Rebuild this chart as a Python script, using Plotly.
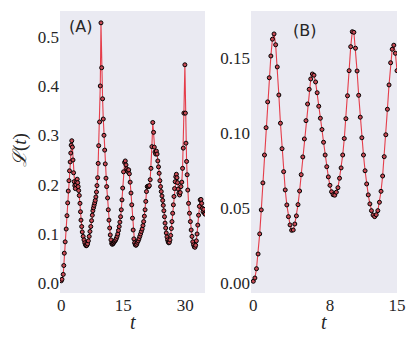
import plotly.graph_objects as go
from plotly.subplots import make_subplots

_BG = "#EAEAF2"
_LINE = "rgba(228, 30, 45, 0.85)"
_FILL = "#c84a55"
_TXT = "#262626"
_SERIF = "Liberation Serif, DejaVu Serif, serif"

# ── 数据 (A)：非均匀采样 ─────────────────────────────────────────────────────
t_a = [0.0, 0.17, 0.48, 0.61, 0.73, 0.94, 1.19, 1.38, 1.55, 1.69, 1.86, 1.99, 2.15, 2.30, 2.40,
       2.54, 2.69, 2.83, 2.98, 3.12,
       3.27, 3.41, 3.56, 3.70, 3.85, 3.97, 4.09, 4.21,
       4.36, 4.53, 4.65, 4.77, 4.94, 5.08, 5.30, 5.50, 5.69, 5.86, 6.03, 6.20, 6.37,
       6.56, 6.76, 6.95, 7.14, 7.34, 7.51, 7.65, 7.80, 7.94, 8.09, 8.23, 8.38, 8.52, 8.64,
       8.81, 8.93, 9.06, 9.27, 9.44, 9.61,
       9.78, 10.00, 10.17, 10.34, 10.51, 10.65, 10.82, 10.99, 11.21, 11.38, 11.55, 11.72,
       11.86, 12.03, 12.20,
       12.35, 12.52, 12.66, 12.83, 13.00, 13.17, 13.34, 13.51, 13.68, 13.85, 14.02,
       14.19, 14.36, 14.53, 14.70, 14.87, 15.08, 15.33, 15.50, 15.67, 15.84, 15.98, 16.15,
       16.32, 16.49, 16.68, 16.88, 17.07, 17.24, 17.41, 17.58, 17.75, 17.92, 18.09, 18.26,
       18.43, 18.62, 18.81, 19.01, 19.20, 19.39, 19.59, 19.78, 19.95, 20.12, 20.29, 20.46,
       20.63, 20.82, 20.99, 21.16, 21.33, 21.53, 21.72, 21.94, 22.15,
       22.35, 22.52, 22.69, 22.86, 23.03, 23.20, 23.37, 23.54, 23.70, 23.87, 24.04, 24.21,
       24.38, 24.55, 24.70, 24.84, 24.99, 25.13, 25.28, 25.42, 25.59, 25.74, 25.88, 26.03,
       26.17, 26.32, 26.49, 26.66, 26.80, 26.97, 27.14, 27.29, 27.43, 27.58, 27.72, 27.87,
       28.01, 28.16, 28.30, 28.47, 28.64, 28.81, 28.98, 29.18, 29.37,
       29.54, 29.69, 29.93, 30.05, 30.19, 30.34, 30.48, 30.63, 30.82, 31.04, 31.26, 31.45,
       31.65, 31.84, 32.03, 32.20, 32.37, 32.54, 32.71, 32.88, 33.05, 33.24, 33.44, 33.63,
       33.83, 33.99, 34.16, 34.33, 34.50, 34.67, 34.84]
L_a = [0.005, 0.008, 0.018, 0.036, 0.061, 0.084, 0.110, 0.137, 0.163, 0.187, 0.208, 0.228,
       0.246, 0.264, 0.280, 0.289, 0.276, 0.250, 0.224, 0.206,
       0.198, 0.192, 0.200, 0.206, 0.211, 0.204, 0.196, 0.188,
       0.178, 0.162, 0.145, 0.128, 0.115, 0.104, 0.095, 0.088, 0.082, 0.078, 0.076, 0.077, 0.080,
       0.086, 0.095, 0.105, 0.115, 0.127, 0.138, 0.147, 0.153, 0.158, 0.163, 0.168, 0.175,
       0.185, 0.198, 0.214, 0.243, 0.279, 0.327, 0.400, 0.528,
       0.437, 0.374, 0.333, 0.300, 0.270, 0.242, 0.213, 0.196, 0.173, 0.149, 0.128, 0.112,
       0.098, 0.088, 0.081,
       0.079, 0.080, 0.082, 0.084, 0.086, 0.088, 0.091, 0.095, 0.100, 0.107, 0.115,
       0.124, 0.135, 0.149, 0.169, 0.193, 0.226, 0.245, 0.248, 0.240, 0.232, 0.228, 0.226,
       0.230, 0.222, 0.205, 0.183, 0.159, 0.132, 0.108, 0.090, 0.082, 0.078, 0.077, 0.079,
       0.083, 0.086, 0.090, 0.095, 0.100, 0.105, 0.110, 0.117, 0.125, 0.136, 0.149, 0.166,
       0.186, 0.196, 0.197, 0.196, 0.198, 0.210, 0.233, 0.277, 0.326,
       0.306, 0.276, 0.266, 0.262, 0.268, 0.262, 0.248, 0.236, 0.223, 0.208, 0.196, 0.186,
       0.177, 0.168, 0.158, 0.147, 0.135, 0.122, 0.112, 0.102, 0.094, 0.088, 0.084, 0.082,
       0.083, 0.088, 0.097, 0.111, 0.125, 0.142, 0.159, 0.176, 0.192, 0.206, 0.216, 0.221,
       0.214, 0.204, 0.191, 0.183, 0.179, 0.184, 0.196, 0.205, 0.233,
       0.274, 0.345, 0.443, 0.345, 0.284, 0.247, 0.220, 0.189, 0.162, 0.142, 0.125, 0.108,
       0.095, 0.084, 0.078, 0.074, 0.073, 0.077, 0.086, 0.100, 0.118, 0.138, 0.156, 0.169,
       0.170, 0.162, 0.152, 0.145, 0.150, 0.142, 0.140]

# ── 数据 (B)：均匀采样 ───────────────────────────────────────────────────────
t_b = [0.0, 0.167, 0.333, 0.5, 0.667, 0.833,
       1.0, 1.167, 1.333, 1.5, 1.667, 1.833,
       2.0, 2.167, 2.333, 2.5, 2.667, 2.833,
       3.0, 3.167, 3.333, 3.5, 3.667, 3.833,
       4.0, 4.167, 4.333, 4.5, 4.667, 4.833,
       5.0, 5.167, 5.333, 5.5, 5.667, 5.833,
       6.0, 6.167, 6.333, 6.5, 6.667, 6.833,
       7.0, 7.167, 7.333, 7.5, 7.667, 7.833,
       8.0, 8.167, 8.333, 8.5, 8.667, 8.833,
       9.0, 9.167, 9.333, 9.5, 9.667, 9.833,
       10.0, 10.167, 10.333, 10.5, 10.667, 10.833,
       11.0, 11.167, 11.333, 11.5, 11.667, 11.833,
       12.0, 12.167, 12.333, 12.5, 12.667, 12.833,
       13.0, 13.167, 13.333, 13.5, 13.667, 13.833,
       14.0, 14.167, 14.333, 14.5, 14.667, 14.833,
       15.0]
L_b = [0.0013, 0.0035, 0.0097, 0.0195, 0.0329, 0.0489,
       0.0669, 0.0855, 0.1037, 0.1209, 0.1370, 0.1515,
       0.1627, 0.1662, 0.1590, 0.1442, 0.1255, 0.1067,
       0.0897, 0.0744, 0.0622, 0.0522, 0.0444, 0.0389,
       0.0353, 0.0355, 0.0395, 0.0449, 0.0524, 0.0615,
       0.0724, 0.0842, 0.0962, 0.1084, 0.1195, 0.1293,
       0.1362, 0.1395, 0.1387, 0.1342, 0.1270, 0.1180,
       0.1100, 0.1025, 0.0940, 0.0855, 0.0777, 0.0709,
       0.0653, 0.0610, 0.0590, 0.0587, 0.0607, 0.0637,
       0.0700, 0.0769, 0.0855, 0.0965, 0.1097, 0.1250,
       0.1417, 0.1577, 0.1677, 0.1673, 0.1567, 0.1415,
       0.1253, 0.1107, 0.0970, 0.0855, 0.0750, 0.0662,
       0.0589, 0.0529, 0.0484, 0.0455, 0.0444, 0.0457,
       0.0484, 0.0540, 0.0613, 0.0715, 0.0844, 0.0990,
       0.1160, 0.1322, 0.1470, 0.1560, 0.1587, 0.1533,
       0.1417]

ticks_a_x = [0, 15, 30]
ticks_a_y = [0.0, 0.1, 0.2, 0.3, 0.4, 0.5]
ticks_b_x = [0, 8, 15]
ticks_b_y = [0.00, 0.05, 0.10, 0.15]

W, H, TOP, BOT = 415, 346, 11, 293   # 画布与绘图区像素边界
PH = BOT - TOP


def _py(y_px):
    """像素 y → paper y"""
    return (BOT - y_px) / PH


fig = make_subplots(rows=1, cols=2)

for (tt, ll, col) in [(t_a, L_a, 1), (t_b, L_b, 2)]:
    fig.add_trace(go.Scatter(
        x=tt, y=ll, mode="lines+markers", showlegend=False,
        line=dict(color=_LINE, width=1.1),
        marker=dict(size=4, color=_FILL, line=dict(color="black", width=1)),
    ), row=1, col=col)

fig.update_layout(
    width=W, height=H,
    margin=dict(l=0, r=0, t=TOP, b=H - BOT, autoexpand=False),
    paper_bgcolor="white", plot_bgcolor=_BG,
    font=dict(family=_SERIF, size=17, color=_TXT),
)

# ── 文本标注 ────────────────────────────────────────────────────────────────
_ann = dict(xref="paper", yref="paper", showarrow=False, xanchor="center", yanchor="middle")
fig.add_annotation(text="(A)", x=80 / W, y=_py(26), font=dict(family="DejaVu Sans", size=16, color=_TXT), **_ann)
fig.add_annotation(text="(B)", x=304 / W, y=_py(30), font=dict(family="DejaVu Sans", size=16, color=_TXT), **_ann)
fig.add_annotation(text="<i>ℒ</i>(<i>t</i>)", x=20 / W, y=_py(150), textangle=-90,
                   font=dict(family=_SERIF, size=19, color=_TXT), **_ann)
fig.add_annotation(text="<i>t</i>", x=132.5 / W, y=_py(322), font=dict(family=_SERIF, size=20, color=_TXT), **_ann)
fig.add_annotation(text="<i>t</i>", x=324 / W, y=_py(322), font=dict(family=_SERIF, size=20, color=_TXT), **_ann)

axis_common = dict(showgrid=False, zeroline=False, showline=False, ticks="", automargin=False,
                   tickfont=dict(family=_SERIF, size=17, color=_TXT))
fig.update_xaxes(domain=[60 / W, 205 / W], range=[-0.31, 34.8], tickvals=ticks_a_x,
                 row=1, col=1, **axis_common)
fig.update_xaxes(domain=[251 / W, 397 / W], range=[-0.24, 15.0], tickvals=ticks_b_x,
                 row=1, col=2, **axis_common)
fig.update_yaxes(domain=[0, 1], range=[-0.0197, 0.552], tickvals=ticks_a_y, tickformat=".1f",
                 row=1, col=1, **axis_common)
fig.update_yaxes(domain=[0, 1], range=[-0.0065, 0.1815], tickvals=ticks_b_y, tickformat=".2f",
                 row=1, col=2, **axis_common)

# 页面默认 body 外边距 8px，去掉以对齐像素位置
fig.write_html("out.html", config={"displayModeBar": False},
               post_script="document.body.style.margin='0px';")
